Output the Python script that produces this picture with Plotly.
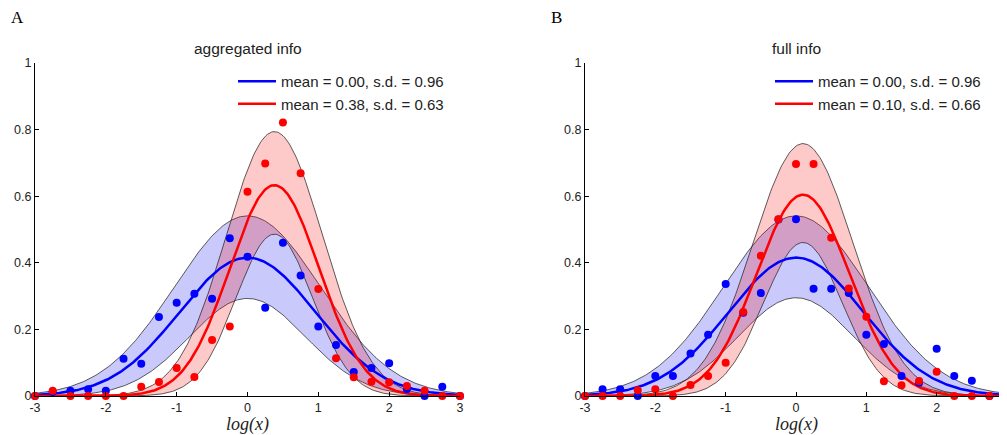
import numpy as np
import plotly.graph_objects as go

# ---------------- data ----------------
x_pts = [-3.0, -2.75, -2.5, -2.25, -2.0, -1.75, -1.5, -1.25, -1.0, -0.75, -0.5, -0.25,
         0.0, 0.25, 0.5, 0.75, 1.0, 1.25, 1.5, 1.75, 2.0, 2.25, 2.5, 2.75, 3.0]

a_blue_pts = [0.0, 0.012, 0.016, 0.02, 0.016, 0.112, 0.097, 0.237, 0.28, 0.307, 0.292, 0.474,
              0.418, 0.265, 0.46, 0.362, 0.209, 0.153, 0.072, 0.084, 0.098, 0.02, 0.0, 0.028, 0.0]
a_red_pts = [0.0, 0.016, 0.0, 0.0, 0.0, 0.0, 0.028, 0.042, 0.084, 0.057, 0.168, 0.209,
             0.613, 0.698, 0.821, 0.669, 0.321, 0.113, 0.056, 0.043, 0.041, 0.03, 0.016, 0.0, 0.0]
b_blue_pts = [0.0, 0.02, 0.02, 0.0, 0.06, 0.06, 0.128, 0.184, 0.336, 0.25, 0.309, 0.53,
              0.531, 0.322, 0.322, 0.309, 0.184, 0.156, 0.06, 0.04, 0.142, 0.06, 0.046, 0.0, 0.0]
b_red_pts = [0.0, 0.0, 0.0, 0.017, 0.02, 0.0, 0.033, 0.06, 0.1, 0.252, 0.421, 0.531,
             0.697, 0.697, 0.475, 0.323, 0.238, 0.044, 0.032, 0.045, 0.073, 0.0, 0.0, 0.0, 0.0]

# fitted normal curves (mean, s.d.) and band edges (peak height, width)
a_blue_fit = [0.00, 0.96]
a_red_fit = [0.38, 0.63]
b_blue_fit = [0.00, 0.96]
b_red_fit = [0.10, 0.66]

a_blue_band = [0.541, 1.03, 0.293, 0.82]   # upper peak, upper width, lower peak, lower width
a_red_band = [0.794, 0.68, 0.486, 0.54]
b_blue_band = [0.541, 1.03, 0.295, 0.82]
b_red_band = [0.758, 0.71, 0.461, 0.56]

panel_titles = ["aggregated info", "full info"]
panel_letters = ["A", "B"]
x_ticks = [-3, -2, -1, 0, 1, 2, 3]
x_ticktext = ["-3", "-2", "-1", "0", "1", "2", "3"]
y_ticks = [0, 0.2, 0.4, 0.6, 0.8, 1.0]
y_ticktext = ["0", "0.2", "0.4", "0.6", "0.8", "1"]

# ---------------- figure ----------------
OFF = 8                      # page body margin of the browser
W, H = 1007 - OFF, 435 - OFF
BLUE = "rgb(0,0,255)"
RED = "rgb(255,0,0)"
xg = np.linspace(-3, 3, 301)


def fx(px):
    return (px - OFF) / W


def fy(py):
    return 1 - (py - OFF) / H


def gauss(xx, amp, mu, s):
    return amp * np.exp(-0.5 * ((xx - mu) / s) ** 2)


def pdf(xx, mu, sd):
    return gauss(xx, 1.0 / (sd * np.sqrt(2 * np.pi)), mu, sd)


fig = go.Figure()

panels = [
    ("", "legend", a_blue_fit, a_red_fit, a_blue_band, a_red_band, a_blue_pts, a_red_pts),
    ("2", "legend2", b_blue_fit, b_red_fit, b_blue_band, b_red_band, b_blue_pts, b_red_pts),
]

for suf, leg, bfit, rfit, bband, rband, bpts, rpts in panels:
    xa, ya = "x" + suf, "y" + suf
    # bands
    for fit, band, fillc in [(bfit, bband, "rgba(0,0,235,0.21)"), (rfit, rband, "rgba(245,0,0,0.21)")]:
        up = gauss(xg, band[0], fit[0], band[1])
        lo = gauss(xg, band[2], fit[0], band[3])
        fig.add_trace(go.Scatter(
            x=np.concatenate([xg, xg[::-1]]), y=np.concatenate([up, lo[::-1]]),
            fill="toself", fillcolor=fillc, mode="lines",
            line=dict(color="rgba(30,30,30,0.9)", width=0.8),
            showlegend=False, hoverinfo="skip", xaxis=xa, yaxis=ya))
    # fitted lines
    for fit, col in [(bfit, BLUE), (rfit, RED)]:
        fig.add_trace(go.Scatter(
            x=xg, y=pdf(xg, fit[0], fit[1]), mode="lines",
            line=dict(color=col, width=2.5),
            name=f"mean = {fit[0]:.2f}, s.d. = {fit[1]:.2f}",
            legend=leg, showlegend=True, xaxis=xa, yaxis=ya, cliponaxis=False))
    # points
    for pts, col in [(bpts, BLUE), (rpts, RED)]:
        fig.add_trace(go.Scatter(
            x=x_pts, y=pts, mode="markers",
            marker=dict(color=col, size=8, line=dict(width=0)),
            showlegend=False, xaxis=xa, yaxis=ya, cliponaxis=False))

axis_font = dict(family="Liberation Sans, Arial, sans-serif", size=12.5, color="#222")
common_x = dict(range=[-3, 3], tickvals=x_ticks, ticktext=x_ticktext, ticks="inside",
                ticklen=4, tickcolor="black", showline=True, linecolor="black", linewidth=1,
                showgrid=False, zeroline=False, tickfont=axis_font, automargin=False,
                ticklabeloverflow="allow")
common_y = dict(range=[0, 1], tickvals=y_ticks, ticktext=y_ticktext, ticks="inside",
                ticklen=4, tickcolor="black", showline=True, linecolor="black", linewidth=1,
                showgrid=False, zeroline=False, tickfont=axis_font, automargin=False)

ydom = [fy(396), fy(63)]
leg_font = dict(family="Liberation Sans, Arial, sans-serif", size=15, color="#222")
fig.update_layout(
    width=W, height=H, margin=dict(l=0, r=0, t=0, b=0),
    template="none", paper_bgcolor="white", plot_bgcolor="rgba(0,0,0,0)",
    xaxis=dict(domain=[fx(35), fx(460)], anchor="y", **common_x),
    yaxis=dict(domain=ydom, anchor="x", **common_y),
    xaxis2=dict(domain=[fx(585), 1.0], anchor="y2", **common_x),
    yaxis2=dict(domain=ydom, anchor="x2", **common_y),
    legend=dict(x=fx(233), y=fy(65), xanchor="left", yanchor="top",
                bgcolor="rgba(0,0,0,0)", borderwidth=0, font=leg_font,
                itemwidth=38, tracegroupgap=0),
    legend2=dict(x=fx(770), y=fy(65), xanchor="left", yanchor="top",
                 bgcolor="rgba(0,0,0,0)", borderwidth=0, font=leg_font,
                 itemwidth=38, tracegroupgap=0),
    showlegend=True,
)

annots = []
for i, suf in enumerate(["", "2"]):
    annots.append(dict(text=panel_titles[i], xref=f"x{suf} domain", x=0.5, yref="paper",
                       y=fy(48), xanchor="center", yanchor="middle", showarrow=False,
                       font=dict(family="Liberation Sans, Arial, sans-serif", size=15.5, color="#222")))
    annots.append(dict(text="<i>log(x)</i>", xref=f"x{suf} domain", x=0.5, yref="paper",
                       y=fy(424), xanchor="center", yanchor="middle", showarrow=False,
                       borderpad=0,
                       font=dict(family="Liberation Serif, Times New Roman, serif", size=18,
                                 color="#222")))
for letter, px in zip(panel_letters, [10, 550]):
    annots.append(dict(text=letter, xref="paper", x=fx(px), yref="paper", y=fy(17),
                       xanchor="left", yanchor="middle", showarrow=False, borderpad=0,
                       font=dict(family="Liberation Serif, Times New Roman, serif", size=17,
                                 color="black")))
fig.update_layout(annotations=annots)

fig.write_html("out.html")
